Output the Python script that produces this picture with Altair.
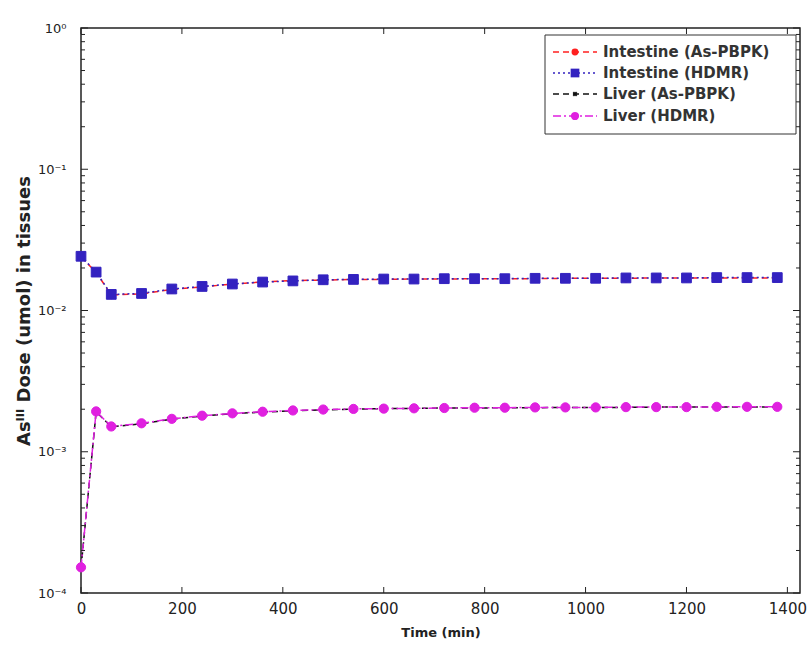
import altair as alt
import pandas as pd

# ---------------- data ----------------
time_min = [0, 30, 60, 120, 180, 240, 300, 360, 420, 480, 540, 600, 660, 720,
            780, 840, 900, 960, 1020, 1080, 1140, 1200, 1260, 1320, 1380]

intestine_pbpk = [0.0240, 0.0186, 0.0129, 0.0131, 0.0141, 0.0147, 0.0154, 0.0159,
                  0.0163, 0.0164, 0.0166, 0.0166, 0.0167, 0.0167, 0.0168, 0.0168,
                  0.0168, 0.0169, 0.0169, 0.0169, 0.0170, 0.0170, 0.0170, 0.0170, 0.0170]
intestine_hdmr = [0.0242, 0.0187, 0.0130, 0.0132, 0.0142, 0.0148, 0.0154, 0.0159,
                  0.0162, 0.0165, 0.0166, 0.0167, 0.0167, 0.0168, 0.0168, 0.0168,
                  0.0169, 0.0169, 0.0169, 0.0170, 0.0170, 0.0170, 0.0171, 0.0171, 0.0171]
liver_pbpk = [1.50e-4, 1.92e-3, 1.50e-3, 1.58e-3, 1.70e-3, 1.79e-3, 1.86e-3, 1.91e-3,
              1.95e-3, 1.98e-3, 2.00e-3, 2.02e-3, 2.03e-3, 2.04e-3, 2.04e-3, 2.05e-3,
              2.05e-3, 2.06e-3, 2.06e-3, 2.06e-3, 2.07e-3, 2.07e-3, 2.07e-3, 2.07e-3, 2.08e-3]
liver_hdmr = [1.52e-4, 1.93e-3, 1.51e-3, 1.59e-3, 1.71e-3, 1.80e-3, 1.87e-3, 1.92e-3,
              1.96e-3, 1.99e-3, 2.01e-3, 2.02e-3, 2.03e-3, 2.04e-3, 2.05e-3, 2.05e-3,
              2.06e-3, 2.06e-3, 2.06e-3, 2.07e-3, 2.07e-3, 2.07e-3, 2.08e-3, 2.08e-3, 2.08e-3]

series_names = ["Intestine (As-PBPK)", "Intestine (HDMR)", "Liver (As-PBPK)", "Liver (HDMR)"]
series_values = [intestine_pbpk, intestine_hdmr, liver_pbpk, liver_hdmr]

x_tick_values = [0, 200, 400, 600, 800, 1000, 1200, 1400]
y_tick_values = [1, 0.1, 0.01, 0.001, 0.0001]
y_minor_values = [m * 10.0 ** k for k in range(-4, 0) for m in range(2, 10)]

# ---------------- styles ----------------
colors = ["#ff2020", "#3322c0", "#111111", "#e020e0"]
dashes = [[6, 4], [2, 3], [6, 4], [8, 3, 2, 3]]
shapes = ["circle", "square", "cross", "circle"]
sizes = [60, 95, 30, 85]
angles = [0, 0, 45, 0]

W, H = 719, 565
FONT = "DejaVu Sans"

x_scale = alt.Scale(domain=[0, 1425], nice=False, zero=False)
y_scale = alt.Scale(type="log", domain=[1e-4, 1], nice=False)

x_axis = alt.Axis(values=x_tick_values, format="d", ticks=False, grid=False, domain=False,
                  labelFont=FONT, labelFontSize=15, labelColor="#222", labelPadding=8,
                  titleFont=FONT, titleFontSize=13, titleFontWeight="bold",
                  titleColor="#222", titlePadding=10, labelFlush=False)
y_axis = alt.Axis(values=y_tick_values, ticks=False, grid=False, domain=False,
                  labelFont=FONT, labelFontSize=13, labelColor="#222", labelPadding=15,
                  labelExpr="'10' + ['\u2070','\u207b\u00b9','\u207b\u00b2','\u207b\u00b3','\u207b\u2074'][round(-log(datum.value)/LN10)]",
                  titleFont=FONT, titleFontSize=18, titleFontWeight="bold",
                  titleColor="#222", titlePadding=4, labelFlush=False)

X_TITLE = "Time (min)"
Y_TITLE = "As\u1d35\u1d35\u1d35 Dose (umol) in tissues"


def X(field):
    return alt.X(field, type="quantitative", scale=x_scale, axis=x_axis, title=X_TITLE)


def Y(field):
    return alt.Y(field, type="quantitative", scale=y_scale, axis=y_axis, title=Y_TITLE)


layers = []

# data series
for i, name in enumerate(series_names):
    df = pd.DataFrame({"time": time_min, "value": series_values[i]})
    base = alt.Chart(df)
    layers.append(base.mark_line(color=colors[i], strokeDash=dashes[i], strokeWidth=1.5)
                  .encode(x=X("time"), y=Y("value")))
    layers.append(base.mark_point(shape=shapes[i], filled=True, color=colors[i],
                                  size=sizes[i], angle=angles[i], opacity=1,
                                  stroke=colors[i], strokeWidth=1)
                  .encode(x=X("time"), y=Y("value")))

# inward tick marks (MATLAB style)
xt = alt.Chart(pd.DataFrame({"t": x_tick_values}))
layers.append(xt.mark_rule(color="#222", strokeWidth=1).encode(
    x=X("t"), y=alt.value(H), y2=alt.value(H - 6)))
layers.append(xt.mark_rule(color="#222", strokeWidth=1).encode(
    x=X("t"), y=alt.value(0), y2=alt.value(6)))

yt = alt.Chart(pd.DataFrame({"t": y_tick_values}))
layers.append(yt.mark_rule(color="#222", strokeWidth=1).encode(
    y=Y("t"), x=alt.value(0), x2=alt.value(7)))
layers.append(yt.mark_rule(color="#222", strokeWidth=1).encode(
    y=Y("t"), x=alt.value(W), x2=alt.value(W - 7)))

ym = alt.Chart(pd.DataFrame({"t": y_minor_values}))
layers.append(ym.mark_rule(color="#222", strokeWidth=1).encode(
    y=Y("t"), x=alt.value(0), x2=alt.value(4)))
layers.append(ym.mark_rule(color="#222", strokeWidth=1).encode(
    y=Y("t"), x=alt.value(W), x2=alt.value(W - 4)))

# legend box
one = alt.Chart(pd.DataFrame({"a": [0]}))
layers.append(one.mark_rect(fill="white", stroke="#333", strokeWidth=1).encode(
    x=alt.value(464), x2=alt.value(715), y=alt.value(7), y2=alt.value(106)))

leg_y = [24, 45, 66, 88]
for i, name in enumerate(series_names):
    yy = leg_y[i]
    layers.append(one.mark_rule(color=colors[i], strokeDash=dashes[i], strokeWidth=1.5).encode(
        x=alt.value(472), x2=alt.value(516), y=alt.value(yy)))
    layers.append(one.mark_point(shape=shapes[i], filled=True, color=colors[i],
                                 size=sizes[i] * 0.8, angle=angles[i], opacity=1).encode(
        x=alt.value(494), y=alt.value(yy)))
    layers.append(one.mark_text(text=name, align="left", baseline="middle", font=FONT,
                                fontSize=15, fontWeight="bold", color="#333").encode(
        x=alt.value(522), y=alt.value(yy)))

chart = alt.layer(*layers).properties(
    width=W, height=H,
    autosize=alt.AutoSizeParams(type="none"),
    padding={"left": 81, "top": 28, "right": 10, "bottom": 53},
    background="white",
).configure_view(stroke="#222", strokeWidth=1.5)

chart.save("out.html", embed_options={"renderer": "svg", "actions": False})
